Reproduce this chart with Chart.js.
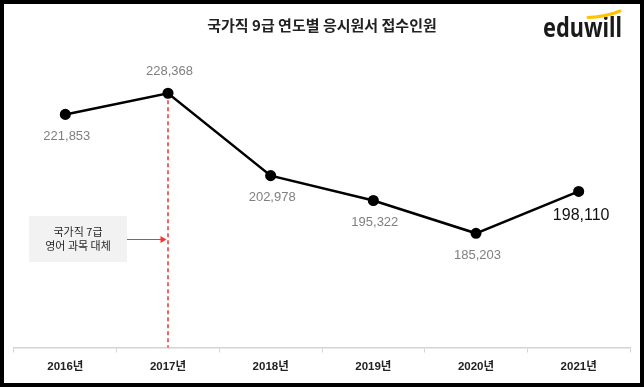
<!DOCTYPE html>
<html>
<head>
<meta charset="utf-8">
<script src="https://cdn.jsdelivr.net/npm/chart.js@4/dist/chart.umd.min.js"></script>
<style>
  html, body { margin: 0; padding: 0; background: #fff; }
  #wrap { width: 644px; height: 387px; position: relative; }
</style>
</head>
<body>
<div id="wrap"><canvas id="chart"></canvas></div>
<script>
// data
var years = ['2016년', '2017년', '2018년', '2019년', '2020년', '2021년'];
var applicants = [221853, 228368, 202978, 195322, 185203, 198110];
var titleText = '국가직 9급 연도별 응시원서 접수인원';
var noteLines = ['국가직 7급', '영어 과목 대체'];
var noteIndex = 1; // 2017년, where the red line goes

var KR = '"Noto Sans CJK KR", "Noto Sans", sans-serif';
var NUM = '"Liberation Sans", Arial, sans-serif';

// label placement: -1 above the point, 1 below
var labelSide = [1, -1, 1, 1, 1, 1];

var backgroundPlugin = {
  id: 'bg',
  beforeDraw: function(chart) {
    var ctx = chart.ctx;
    ctx.save();
    ctx.fillStyle = '#fff';
    ctx.fillRect(0, 0, chart.width, chart.height);
    ctx.restore();
  }
};

var notePlugin = {
  id: 'note',
  beforeDatasetsDraw: function(chart) {
    var ctx = chart.ctx;
    var pt = chart.getDatasetMeta(0).data[noteIndex];
    var area = chart.chartArea;
    ctx.save();
    // red dashed line from the 2017 point down to the axis
    ctx.strokeStyle = '#f04a4a';
    ctx.lineWidth = 1.7;
    ctx.setLineDash([4, 3]);
    ctx.beginPath();
    ctx.moveTo(pt.x, pt.y);
    ctx.lineTo(pt.x, area.bottom);
    ctx.stroke();
    ctx.setLineDash([]);

    // grey note box
    var bx = 29, by = 216, bw = 98, bh = 46;
    ctx.fillStyle = '#f2f2f2';
    ctx.fillRect(bx, by, bw, bh);
    ctx.fillStyle = '#262626';
    ctx.font = '11px ' + KR;
    ctx.textAlign = 'center';
    ctx.textBaseline = 'middle';
    ctx.fillText(noteLines[0], bx + bw / 2, 231.5);
    ctx.fillText(noteLines[1], bx + bw / 2, 246);

    // arrow to the dashed line
    var ay = 239.5, tip = pt.x - 1.5;
    ctx.strokeStyle = '#ff3030';
    ctx.lineWidth = 1;
    ctx.beginPath();
    ctx.moveTo(bx + bw, ay);
    ctx.lineTo(tip - 5, ay);
    ctx.stroke();
    ctx.fillStyle = '#ff3030';
    ctx.beginPath();
    ctx.moveTo(tip, ay);
    ctx.lineTo(tip - 6, ay - 3.5);
    ctx.lineTo(tip - 6, ay + 3.5);
    ctx.closePath();
    ctx.fill();
    ctx.restore();
  },
  afterDatasetsDraw: function(chart) {
    var ctx = chart.ctx;
    var pts = chart.getDatasetMeta(0).data;
    ctx.save();
    ctx.textAlign = 'center';
    ctx.textBaseline = 'middle';
    for (var i = 0; i < pts.length; i++) {
      var txt = applicants[i].toLocaleString('en-US');
      if (i == pts.length - 1) {
        ctx.font = '16px ' + NUM;
        ctx.fillStyle = '#111';
        ctx.fillText(txt, pts[i].x + 2.5, pts[i].y + 24.5);
      } else {
        ctx.font = '13px ' + NUM;
        ctx.fillStyle = '#7f7f7f';
        ctx.fillText(txt, pts[i].x + 1.5, pts[i].y + labelSide[i] * 22);
      }
    }
    ctx.restore();
  },
  afterDraw: function(chart) {
    var ctx = chart.ctx;
    ctx.save();
    // eduwill logo
    ctx.font = 'bold 25px "Noto Sans", sans-serif';
    var w = ctx.measureText('eduwill').width;
    ctx.translate(543, 37);
    ctx.scale(79 / w, 1.05);
    ctx.fillStyle = '#1a1a1a';
    ctx.textBaseline = 'alphabetic';
    ctx.fillText('eduwill', 0, 0);
    ctx.setTransform(1, 0, 0, 1, 0, 0);
    ctx.strokeStyle = '#ffc400';
    ctx.lineWidth = 3;
    ctx.lineCap = 'round';
    ctx.beginPath();
    ctx.moveTo(588, 17.5);
    ctx.quadraticCurveTo(606, 17, 620, 11);
    ctx.stroke();

    // black frame
    ctx.strokeStyle = '#000';
    ctx.lineWidth = 4;
    ctx.strokeRect(2, 2, chart.width - 4, chart.height - 4);
    ctx.restore();
  }
};

new Chart(document.getElementById('chart'), {
  type: 'line',
  data: {
    labels: years,
    datasets: [{
      data: applicants,
      borderColor: '#000',
      borderWidth: 2.5,
      pointBackgroundColor: '#000',
      pointBorderColor: '#000',
      pointRadius: 4.3,
      tension: 0
    }]
  },
  options: {
    responsive: true,
    maintainAspectRatio: false,
    animation: false,
    layout: { padding: { left: 14, right: 14, top: 0, bottom: 0 } },
    plugins: {
      legend: { display: false },
      tooltip: { enabled: false },
      title: {
        display: true,
        text: titleText,
        color: '#222',
        font: { family: KR, size: 15, weight: 'bold' },
        padding: { top: 16, bottom: 5 }
      }
    },
    scales: {
      x: {
        offset: true,
        grid: { offset: true, drawOnChartArea: false, drawTicks: true, tickLength: 5, color: '#d4d4d4' },
        border: { display: true, color: '#d4d4d4', width: 1.5 },
        ticks: { color: '#222', padding: 7, font: { family: NUM + ', ' + KR, size: 11.5, weight: 'bold' } },
        afterFit: function(s) { s.height = 39.5; }
      },
      y: { display: false, min: 150000, max: 245100 }
    }
  },
  plugins: [backgroundPlugin, notePlugin]
});
</script>
</body>
</html>
